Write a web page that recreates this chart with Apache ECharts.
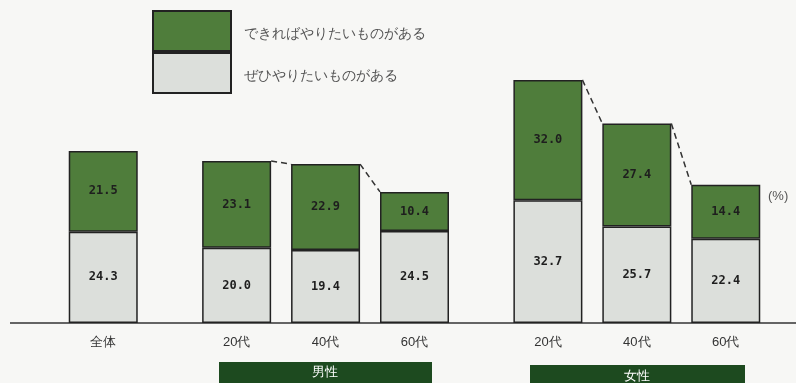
<!DOCTYPE html>
<html>
<head>
<meta charset="utf-8">
<script src="https://cdn.jsdelivr.net/npm/echarts@6/dist/echarts.min.js"></script>
<style>
  html, body { margin: 0; padding: 0; background: #f7f7f5; }
  #chart { width: 796px; height: 383px; }
</style>
</head>
<body>
<div id="chart"></div>
<script>
// tick labels (blank strings are spacer slots between groups)
const categories = ['全体', '', '', '20代', '', '40代', '', '60代', '', '', '20代', '', '40代', '', '60代'];
// values per bar, in order: 全体, 男性20/40/60代, 女性20/40/60代
const zehi = [24.3, 20.0, 19.4, 24.5, 32.7, 25.7, 22.4];      // ぜひやりたいものがある
const dekireba = [21.5, 23.1, 22.9, 10.4, 32.0, 27.4, 14.4];  // できればやりたいものがある
const seriesNames = ['ぜひやりたいものがある', 'できればやりたいものがある'];
const groupNames = ['男性', '女性'];
// bars joined by the dashed lines (indices into the value arrays)
const groups = [[1, 2, 3], [4, 5, 6]];

(function() {
    const chartDom = document.getElementById('chart');
    const myChart = echarts.init(chartDom);

    const GREEN = '#4f7d3b';
    const GRAY = '#dcdfdb';
    const DARK = '#1d4a1f';
    const BAR_W = 69;

    // slot index of every bar on the category axis
    const slots = [];
    categories.forEach((c, i) => { if (c !== '') slots.push(i); });

    const toSlots = arr => {
        const out = categories.map(() => '-');
        arr.forEach((v, i) => { out[slots[i]] = v; });
        return out;
    };

    // dashed connectors between tops of neighbouring bars
    const links = [];
    groups.forEach(g => {
        for (let k = 0; k < g.length - 1; k++) {
            const a = g[k], b = g[k + 1];
            links.push([slots[a], zehi[a] + dekireba[a], slots[b], zehi[b] + dekireba[b]]);
        }
    });

    const barLabel = {
        show: true,
        position: 'inside',
        color: '#1e1e1e',
        fontFamily: 'DejaVu Sans Mono',
        fontWeight: 'bold',
        fontSize: 12,
        formatter: p => Number(p.value).toFixed(1)
    };

    const option = {
        backgroundColor: '#f7f7f5',
        animation: false,
        legend: {
            orient: 'vertical',
            left: 152,
            top: 10,
            padding: 0,
            itemWidth: 78,
            itemHeight: 40,
            itemGap: 0,
            icon: 'rect',
            data: [seriesNames[1], seriesNames[0]],
            formatter: name => '{t|' + name + '}',
            textStyle: {
                color: '#555',
                fontSize: 14,
                rich: { t: { color: '#555', fontSize: 14, padding: [7, 0, 0, 8] } }
            }
        },
        grid: { left: 81, right: 48, top: 60, bottom: 60 },
        xAxis: {
            type: 'category',
            data: categories,
            axisLine: { show: false },
            axisTick: { show: false },
            axisLabel: { interval: 0, margin: 13, fontSize: 13, color: '#333' }
        },
        yAxis: {
            type: 'value',
            min: 0,
            max: 70,
            show: false
        },
        series: [
            {
                name: seriesNames[0],
                type: 'bar',
                stack: 'total',
                clip: false,
                barWidth: BAR_W,
                barMinWidth: BAR_W,
                itemStyle: { color: GRAY, borderColor: '#222', borderWidth: 1.5 },
                label: barLabel,
                data: toSlots(zehi)
            },
            {
                name: seriesNames[1],
                type: 'bar',
                stack: 'total',
                clip: false,
                barWidth: BAR_W,
                barMinWidth: BAR_W,
                itemStyle: { color: GREEN, borderColor: '#222', borderWidth: 1.5 },
                label: barLabel,
                data: toSlots(dekireba)
            },
            {
                type: 'custom',
                silent: true,
                z: 5,
                encode: { x: [0, 2], y: [1, 3] },
                renderItem: (params, api) => {
                    const p1 = api.coord([api.value(0), api.value(1)]);
                    const p2 = api.coord([api.value(2), api.value(3)]);
                    return {
                        type: 'line',
                        shape: { x1: p1[0] + BAR_W / 2, y1: p1[1], x2: p2[0] - BAR_W / 2, y2: p2[1] },
                        style: { stroke: '#333', lineWidth: 1.5, lineDash: [6, 4] }
                    };
                },
                data: links
            }
        ],
        graphic: [
            { type: 'line', shape: { x1: 10, y1: 323, x2: 796, y2: 323 }, style: { stroke: '#333', lineWidth: 1.5 } },
            { type: 'rect', shape: { x: 219, y: 362, width: 213, height: 30 }, style: { fill: DARK } },
            { type: 'text', x: 325, y: 372, style: { text: groupNames[0], fill: '#fff', fontSize: 13, align: 'center', verticalAlign: 'middle' } },
            { type: 'rect', shape: { x: 530, y: 365, width: 215, height: 30 }, style: { fill: DARK } },
            { type: 'text', x: 637, y: 376, style: { text: groupNames[1], fill: '#fff', fontSize: 13, align: 'center', verticalAlign: 'middle' } },
            { type: 'text', x: 768, y: 196, style: { text: '(%)', fill: '#555', fontSize: 13, verticalAlign: 'middle' } }
        ]
    };

    myChart.setOption(option);
    window.addEventListener('resize', () => myChart.resize());
})();
</script>
</body>
</html>
